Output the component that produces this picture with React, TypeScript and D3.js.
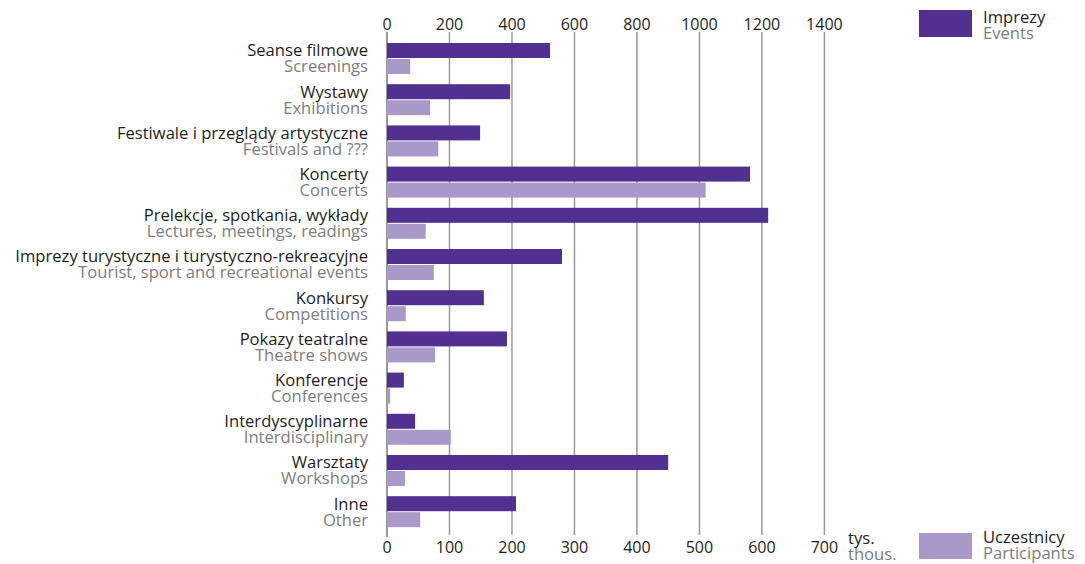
import React from "react";
import * as d3 from "d3";

const categoriesPl = [
  "Seanse filmowe",
  "Wystawy",
  "Festiwale i przeglądy artystyczne",
  "Koncerty",
  "Prelekcje, spotkania, wykłady",
  "Imprezy turystyczne i turystyczno-rekreacyjne",
  "Konkursy",
  "Pokazy teatralne",
  "Konferencje",
  "Interdyscyplinarne",
  "Warsztaty",
  "Inne",
];
const categoriesEn = [
  "Screenings",
  "Exhibitions",
  "Festivals and ???",
  "Concerts",
  "Lectures, meetings, readings",
  "Tourist, sport and recreational events",
  "Competitions",
  "Theatre shows",
  "Conferences",
  "Interdisciplinary",
  "Workshops",
  "Other",
];
const events = [522, 394, 298, 1162, 1220, 560, 310, 384, 54, 90, 900, 413];
const participants = [37, 69, 82, 510, 62, 75, 30, 77, 5, 102, 29, 53];
const topTicks = [0, 200, 400, 600, 800, 1000, 1200, 1400];
const bottomTicks = [0, 100, 200, 300, 400, 500, 600, 700];

const W = 1085;
const H = 564;
const FONT = "'Open Sans', 'Noto Sans', sans-serif";
const DARK = "#1e1e1e";
const GREY = "#7d7d7d";
const C_EVENTS = "#513090";
const C_PART = "#a999c9";
const LFS = 16.6;

export default function App() {
  const xTop = d3.scaleLinear().domain([0, 1400]).range([387, 824.4]);
  const xBot = d3.scaleLinear().domain([0, 700]).range([387, 824.4]);
  const y = d3
    .scaleBand<number>()
    .domain(d3.range(categoriesPl.length))
    .range([43, 43 + 12 * 41.2])
    .paddingInner(0);
  const barH = 15;

  return (
    <svg
      width={W}
      height={H}
      style={{ position: "absolute", left: 0, top: 0, background: "#fff" }}
      fontFamily={FONT}
    >
      {/* grid lines */}
      {topTicks.map((t, i) => (
        <line
          key={"g" + t}
          x1={xTop(t)}
          x2={xTop(t)}
          y1={32}
          y2={i === 0 ? 537 : 535}
          stroke={i === 0 ? "#777" : "#999"}
          strokeWidth={1.5}
        />
      ))}
      {/* top tick labels */}
      {topTicks.map((t) => (
        <text
          key={"tt" + t}
          x={xTop(t)}
          y={30}
          textAnchor="middle"
          fontSize={16}
          fill={DARK}
        >
          {t}
        </text>
      ))}
      {/* bottom tick labels */}
      {bottomTicks.map((t) => (
        <text
          key={"bt" + t}
          x={xBot(t)}
          y={553}
          textAnchor="middle"
          fontSize={16}
          fill={DARK}
        >
          {t}
        </text>
      ))}
      <text x={848} y={538} dy="0.35em" fontSize={LFS} fill={DARK}>
        tys.
      </text>
      <text x={848} y={554} dy="0.35em" fontSize={LFS} fill={GREY}>
        thous.
      </text>

      {/* bars */}
      {categoriesPl.map((c, i) => {
        const y0 = y(i) as number;
        return (
          <g key={"b" + i}>
            <rect
              x={xTop(0)}
              y={y0}
              width={xTop(events[i]) - xTop(0)}
              height={barH}
              fill={C_EVENTS}
            />
            <rect
              x={xBot(0)}
              y={y0 + barH + 1}
              width={xBot(participants[i]) - xBot(0)}
              height={barH}
              fill={C_PART}
            />
            <text
              x={368}
              y={y0 + barH / 2}
              dy="0.35em"
              textAnchor="end"
              fontSize={LFS}
              fill={DARK}
            >
              {c}
            </text>
            <text
              x={368}
              y={y0 + barH + 1 + barH / 2}
              dy="0.35em"
              textAnchor="end"
              fontSize={LFS}
              fill={GREY}
            >
              {categoriesEn[i]}
            </text>
          </g>
        );
      })}

      {/* legend */}
      <rect x={919} y={10} width={53} height={27} fill={C_EVENTS} />
      <text x={983} y={17} dy="0.35em" fontSize={LFS} fill={DARK}>
        Imprezy
      </text>
      <text x={983} y={33} dy="0.35em" fontSize={LFS} fill={GREY}>
        Events
      </text>
      <rect x={919} y={533} width={53} height={26} fill={C_PART} />
      <text x={983} y={537} dy="0.35em" fontSize={LFS} fill={DARK}>
        Uczestnicy
      </text>
      <text x={983} y={553} dy="0.35em" fontSize={LFS} fill={GREY}>
        Participants
      </text>
    </svg>
  );
}
